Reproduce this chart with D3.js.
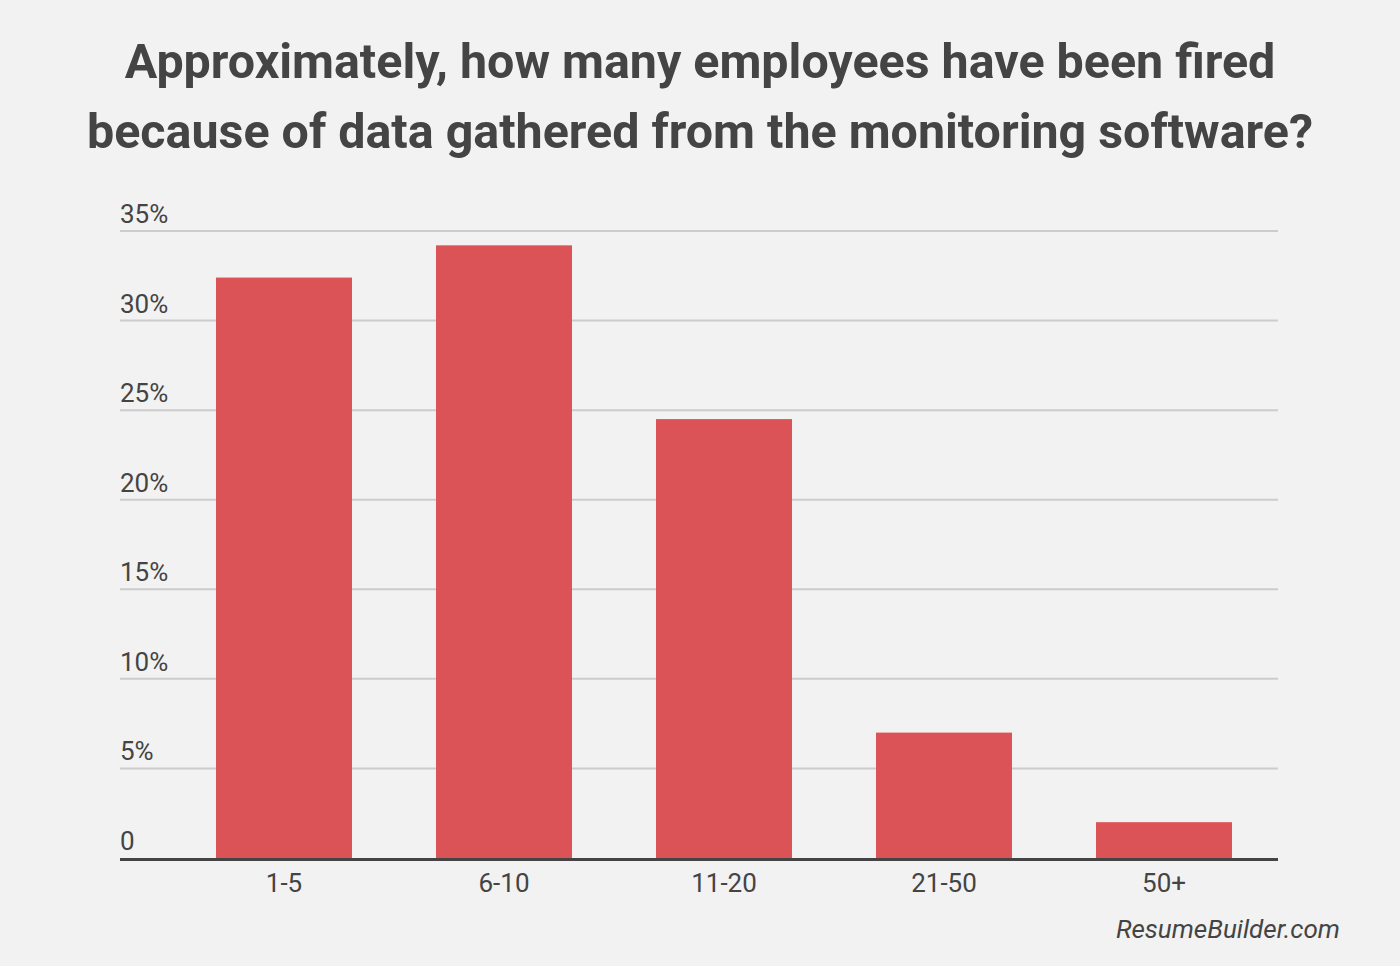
<!DOCTYPE html>
<html>
<head>
<meta charset="utf-8">
<script src="https://cdn.jsdelivr.net/npm/d3@7"></script>
<style>
  html, body { margin: 0; padding: 0; background: #f2f2f2; }
  svg { display: block; font-family: Roboto, "Noto Sans", sans-serif; }
</style>
</head>
<body>
<div id="chart"></div>
<script>
// data
const categories = ["1-5", "6-10", "11-20", "21-50", "50+"];
const values = [32.4, 34.2, 24.5, 7.0, 2.0];
const yTicks = [0, 5, 10, 15, 20, 25, 30, 35];
const titleLines = [
  "Approximately, how many employees have been fired",
  "because of data gathered from the monitoring software?"
];

const width = 1400, height = 966;
const textColor = "#444444";

const svg = d3.select("#chart").append("svg")
  .attr("width", width)
  .attr("height", height);

svg.append("rect").attr("width", width).attr("height", height).attr("fill", "#f2f2f2");

// scales
const gridLeft = 120, gridRight = 1278;
const x = d3.scaleBand()
  .domain(categories)
  .range([174, 1274])
  .paddingInner(0.382)
  .paddingOuter(0.191);

const y = d3.scaleLinear()
  .domain([0, 35])
  .range([858, 231]);

// title
svg.append("g").selectAll("text")
  .data(titleLines)
  .join("text")
  .attr("x", width / 2)
  .attr("y", (d, i) => 78 + i * 70)
  .attr("text-anchor", "middle")
  .attr("font-size", 48.4)
  .attr("font-weight", 700)
  .attr("fill", textColor)
  .text(d => d);

// gridlines + y labels
const grid = svg.append("g");
grid.selectAll("line")
  .data(yTicks.filter(d => d > 0))
  .join("line")
  .attr("x1", gridLeft).attr("x2", gridRight)
  .attr("y1", d => y(d)).attr("y2", d => y(d))
  .attr("stroke", "#cccccc")
  .attr("stroke-width", 2);

grid.selectAll("text")
  .data(yTicks)
  .join("text")
  .attr("x", gridLeft)
  .attr("y", d => y(d) - 8)
  .attr("font-size", 26)
  .attr("fill", textColor)
  .text(d => d === 0 ? "0" : d + "%");

// bars
svg.append("g").selectAll("rect")
  .data(categories.map((c, i) => ({cat: c, val: values[i]})))
  .join("rect")
  .attr("x", d => x(d.cat))
  .attr("width", x.bandwidth())
  .attr("y", d => y(d.val))
  .attr("height", d => y(0) - y(d.val))
  .attr("fill", "#db5356");

// baseline
svg.append("line")
  .attr("x1", gridLeft).attr("x2", gridRight)
  .attr("y1", y(0) + 1.5).attr("y2", y(0) + 1.5)
  .attr("stroke", textColor)
  .attr("stroke-width", 3);

// x axis labels
const xAxis = d3.axisBottom(x).tickSize(0).tickPadding(0);
const gx = svg.append("g")
  .attr("transform", `translate(0,${y(0)})`)
  .call(xAxis);
gx.select(".domain").remove();
gx.selectAll("text")
  .attr("dy", null)
  .attr("y", 34)
  .attr("font-size", 26)
  .attr("font-family", "Roboto, sans-serif")
  .attr("fill", textColor);

// source
svg.append("text")
  .attr("x", 1340)
  .attr("y", 938)
  .attr("text-anchor", "end")
  .attr("font-size", 26)
  .attr("font-style", "italic")
  .attr("fill", textColor)
  .text("ResumeBuilder.com");
</script>
</body>
</html>
